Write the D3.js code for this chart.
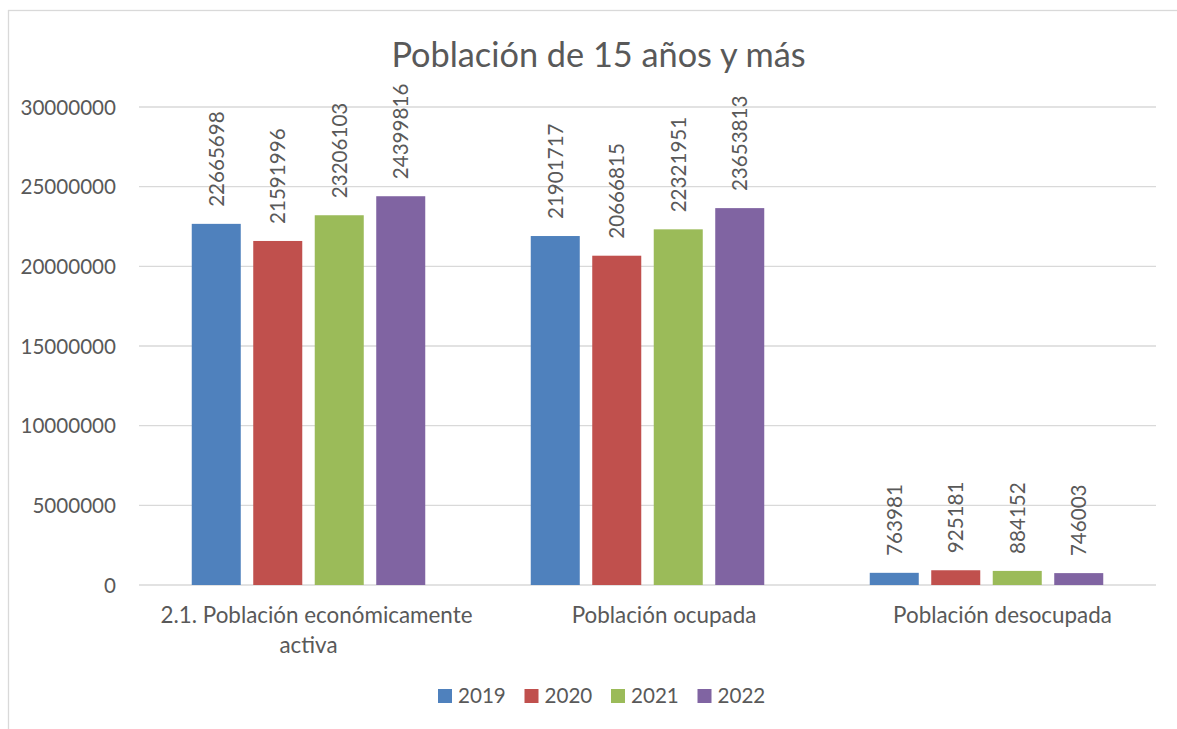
<!DOCTYPE html>
<html>
<head>
  <meta charset="utf-8">
  <title>Población de 15 años y más</title>
  <script src="https://d3js.org/d3.v7.min.js"></script>
  <style>
    body { margin: 0; background: #fff; }
    text { font-family: Lato, "Open Sans", sans-serif; fill: #595959; }
  </style>
</head>
<body>
  <div id="chart"></div>

  <script>
    // data
    const categories = ["2.1. Población económicamente activa", "Población ocupada", "Población desocupada"];
    const categoryLines = [["2.1. Población económicamente", "activa"], ["Población ocupada"], ["Población desocupada"]];
    const years = ["2019", "2020", "2021", "2022"];
    const values2019 = [22665698, 21901717, 763981];
    const values2020 = [21591996, 20666815, 925181];
    const values2021 = [23206103, 22321951, 884152];
    const values2022 = [24399816, 23653813, 746003];
    const yTicks = [0, 5000000, 10000000, 15000000, 20000000, 25000000, 30000000];
    const colors = ["#4F81BD", "#C0504D", "#9BBB59", "#8064A2"];

    const series = [values2019, values2020, values2021, values2022];

    const width = 1177, height = 729;
    const fontSize = 20.6;
    const catFontSize = 22.4;

    const svg = d3.select("#chart").append("svg")
      .attr("width", width)
      .attr("height", height);

    // chart frame
    svg.append("rect")
      .attr("x", 8.5).attr("y", 10.5)
      .attr("width", 1200).attr("height", 800)
      .attr("fill", "none")
      .attr("stroke", "#d9d9d9")
      .attr("stroke-width", 1.3);

    const x0 = d3.scaleBand().domain(categories).range([139, 1156]);
    const x1 = d3.scaleBand().domain(years).range([0, 233.5]).paddingInner(0.203);
    const groupOffset = (x0.bandwidth() - 233.5) / 2;
    const y = d3.scaleLinear().domain([0, 30000000]).range([585, 107]);

    // gridlines
    svg.append("g")
      .selectAll("line")
      .data(yTicks)
      .join("line")
      .attr("x1", 139).attr("x2", 1156)
      .attr("y1", d => y(d)).attr("y2", d => y(d))
      .attr("stroke", "#d9d9d9")
      .attr("stroke-width", 1.3);

    // y axis labels
    svg.append("g")
      .selectAll("text")
      .data(yTicks)
      .join("text")
      .attr("x", 116)
      .attr("y", d => y(d) + 7.5)
      .attr("text-anchor", "end")
      .attr("font-size", fontSize)
      .text(d => d);

    // bars
    const groups = svg.append("g")
      .selectAll("g")
      .data(categories)
      .join("g")
      .attr("transform", d => `translate(${x0(d) + groupOffset},0)`);

    groups.each(function(cat, ci) {
      const g = d3.select(this);
      const rows = years.map((yr, si) => ({ yr, si, v: series[si][ci] }));

      g.selectAll("rect")
        .data(rows)
        .join("rect")
        .attr("x", d => x1(d.yr))
        .attr("y", d => y(d.v))
        .attr("width", x1.bandwidth())
        .attr("height", d => y(0) - y(d.v))
        .attr("fill", d => colors[d.si]);

      g.selectAll("text")
        .data(rows)
        .join("text")
        .attr("transform", d => `translate(${x1(d.yr) + x1.bandwidth() / 2 + 7.5},${y(d.v) - 17}) rotate(-90)`)
        .attr("font-size", fontSize)
        .text(d => d.v);
    });

    // category labels
    const labelShift = [8, 16.5, 16];
    svg.append("g")
      .selectAll("text")
      .data(categories)
      .join("text")
      .attr("text-anchor", "middle")
      .attr("font-size", catFontSize)
      .each(function(d, i) {
        const t = d3.select(this);
        categoryLines[i].forEach((line, li) => {
          t.append("tspan")
            .attr("x", x0(d) + x0.bandwidth() / 2 + (li === 0 ? labelShift[i] : 0))
            .attr("y", 623 + li * 30)
            .text(line);
        });
      });

    // title
    svg.append("text")
      .attr("x", 598.5)
      .attr("y", 67)
      .attr("text-anchor", "middle")
      .attr("font-size", 34.3)
      .text("Población de 15 años y más");

    // legend
    const legend = svg.append("g")
      .selectAll("g")
      .data(years)
      .join("g")
      .attr("transform", (d, i) => `translate(${438 + i * 86.5},689)`);

    legend.append("rect")
      .attr("width", 14).attr("height", 14)
      .attr("fill", (d, i) => colors[i]);

    legend.append("text")
      .attr("x", 20)
      .attr("y", 14)
      .attr("font-size", fontSize)
      .text(d => d);
  </script>
</body>
</html>
